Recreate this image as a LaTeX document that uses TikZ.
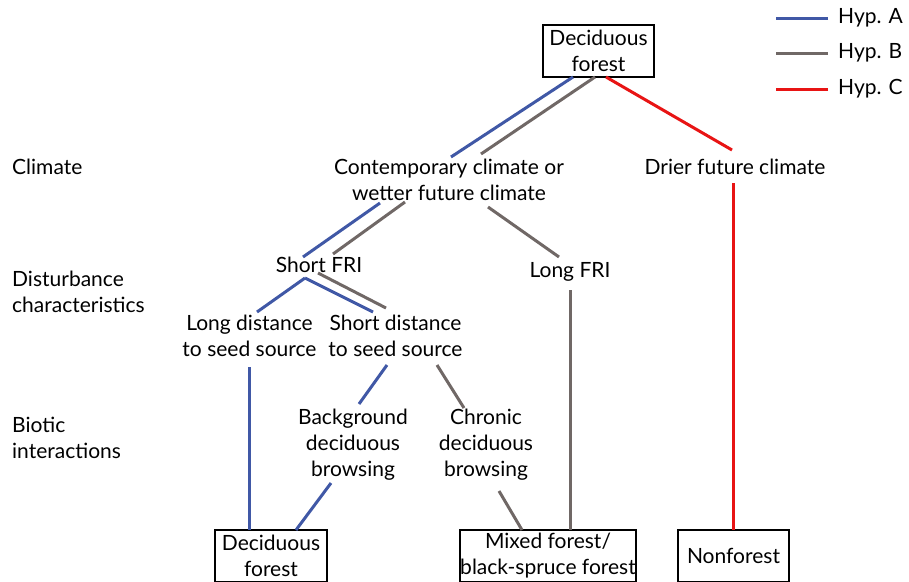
\documentclass[tikz,border=0pt]{standalone}
\usepackage[RGB]{xcolor}
\usepackage{fontspec}
\setmainfont{Lato}
\definecolor{A}{RGB}{64,88,166}
\definecolor{B}{RGB}{112,104,102}
\definecolor{C}{RGB}{232,20,20}
\newcommand{\drawA}{\draw[line width=3pt,A]}
\newcommand{\drawB}{\draw[line width=3pt,B]}
\newcommand{\drawC}{\draw[line width=3pt,C]}
\tikzset{
  lbl/.style={align=center,inner sep=0pt,font=\fontsize{21}{26}\selectfont},
  level/.style={lbl,align=left,anchor=west},
  outcome/.style={lbl,draw,line width=1.3pt,minimum height=52pt}
}
\begin{document}
\begin{tikzpicture}[x=1pt,y=-1pt]
\useasboundingbox (0,0) rectangle (909,581);
% levels
\node[level] (climate) at (12,167) {Climate};
\node[level] (disturb) at (12,291.5) {Disturbance\\characteristics};
\node[level] (biotic) at (12,438) {Biotic\\interactions};
% tree
\node[outcome,minimum width=111pt] (top) at (598.5,51) {Deciduous\\forest};
\node[lbl] (contemp) at (449,180) {Contemporary climate or\\wetter future climate};
\node[lbl] (drier) at (735,167) {Drier future climate};
\node[lbl] (shortFRI) at (319,265) {Short FRI};
\node[lbl] (longFRI) at (570,272) {Long FRI};
\node[lbl] (longdist) at (249.5,336) {Long distance\\to seed source};
\node[lbl] (shortdist) at (395.5,336) {Short distance\\to seed source};
\node[lbl] (background) at (353,445) {Background\\deciduous\\browsing};
\node[lbl] (chronic) at (486,445) {Chronic\\deciduous\\browsing};
\node[outcome,minimum width=112pt] (dec) at (271,556) {Deciduous\\forest};
\node[outcome,minimum width=176pt] (mixed) at (548,556) {Mixed forest/\\black-spruce forest};
\node[outcome,minimum width=111pt] (non) at (733.5,556) {Nonforest};
% Hyp. A
\drawA ([shift={(-25.5,26)}]top.center) -- ([shift={(2,-23)}]contemp.center);
\drawA ([shift={(-69,23)}]contemp.center) -- ([shift={(-16,-8)}]shortFRI.center);
\drawA ([shift={(-14,13)}]shortFRI.center) -- ([shift={(7.5,-24)}]longdist.center);
\drawA ([shift={(-14,13)}]shortFRI.center) -- ([shift={(-22.5,-24)}]shortdist.center);
\drawA ([shift={(-0.5,31)}]longdist.center) -- ([shift={(-22,-26)}]dec.center);
\drawA ([shift={(-8.5,29)}]shortdist.center) -- ([shift={(6,-41)}]background.center);
\drawA ([shift={(-22,38)}]background.center) -- ([shift={(25,-26)}]dec.center);
% Hyp. B
\drawB ([shift={(-3.5,26)}]top.center) -- ([shift={(32,-26)}]contemp.center);
\drawB ([shift={(-44,22)}]contemp.center) -- ([shift={(14,-11)}]shortFRI.center);
\drawB ([shift={(39,27)}]contemp.center) -- ([shift={(-11,-15)}]longFRI.center);
\drawB ([shift={(-1,8)}]shortFRI.center) -- ([shift={(-9.5,-28)}]shortdist.center);
\drawB ([shift={(41.5,29)}]shortdist.center) -- ([shift={(-22,-37)}]chronic.center);
\drawB ([shift={(13,46)}]chronic.center) -- ([shift={(-26,-26)}]mixed.center);
\drawB ([shift={(0,18)}]longFRI.center) -- ([shift={(22,-26)}]mixed.center);
% Hyp. C
\drawC ([shift={(7.5,26)}]top.center) -- ([shift={(-3,-17)}]drier.center);
\drawC ([shift={(-2,16)}]drier.center) -- ([shift={(-0.5,-26)}]non.center);
% legend
\node[lbl,anchor=west] (legA) at (838,18) {Hyp. A};
\node[lbl,anchor=west] (legB) at (838,53) {Hyp. B};
\node[lbl,anchor=west] (legC) at (838,89) {Hyp. C};
\drawA ([xshift=-10pt]legA.west) -- ++(-52,0);
\drawB ([xshift=-10pt]legB.west) -- ++(-52,0);
\drawC ([xshift=-10pt]legC.west) -- ++(-52,0);
\end{tikzpicture}
\end{document}
